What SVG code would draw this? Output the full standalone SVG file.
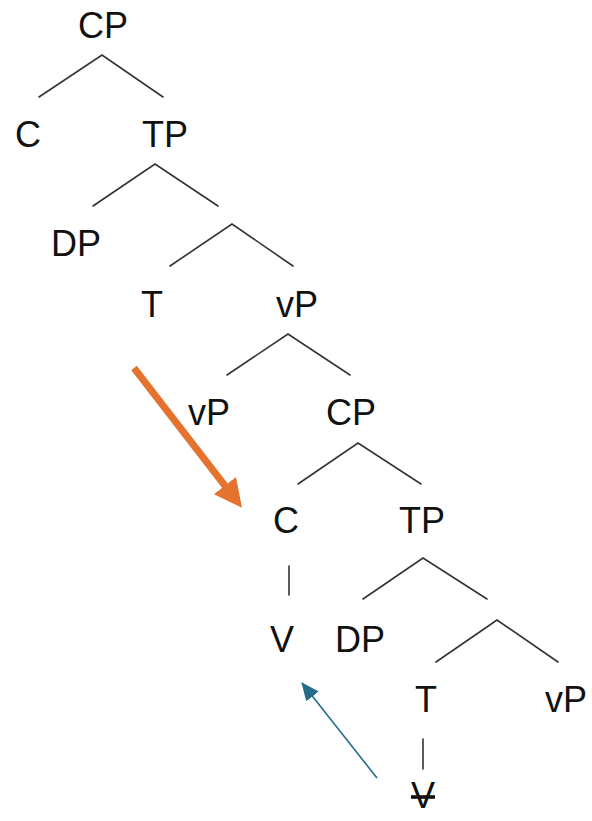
<svg xmlns="http://www.w3.org/2000/svg" width="592" height="821" viewBox="0 0 592 821">
<style>
.lbl{font-family:"Liberation Sans",Arial,sans-serif;font-size:36px;fill:#111;text-anchor:middle}
.br{stroke:#333;stroke-width:1.6;fill:none;stroke-linecap:round;stroke-linejoin:miter}
</style>
<defs>
<marker id="hOrange" markerWidth="4" markerHeight="4" refX="2.6" refY="2" orient="auto" markerUnits="strokeWidth">
<path d="M0,0 L4,2 L0,4 Z" fill="#E5732F"/>
</marker>
<marker id="hBlue" markerWidth="18" markerHeight="16" refX="17" refY="8" orient="auto" markerUnits="userSpaceOnUse">
<path d="M0,0 L18,8 L0,16 Z" fill="#256C8C"/>
</marker>
</defs>
<rect width="592" height="821" fill="#fff"/>
<g id="connectors">
<path class="br" d="M39,97 L102,55 L163,97"/>
<path class="br" d="M93,206 L155,164 L218,206"/>
<path class="br" d="M170,266 L232,224 L293,266"/>
<path class="br" d="M227,375 L288,334 L350,375"/>
<path class="br" d="M298,484 L358,443 L421,484"/>
<path class="br" d="M363,599 L423,558 L487,599"/>
<path class="br" d="M436,662 L497,620 L558,662"/>
<path class="br" d="M289,566 L289,595"/>
<path class="br" d="M423,739 L423,769"/>
<line id="arrow-orange" x1="134" y1="368" x2="236" y2="500" stroke="#E5732F" stroke-width="7" marker-end="url(#hOrange)"/>
<line id="arrow-blue" x1="377" y1="778" x2="302" y2="683" stroke="#256C8C" stroke-width="1.6" marker-end="url(#hBlue)"/>
</g>
<g id="n-CP1"><text class="lbl" x="103" y="38">CP</text></g>
<g id="n-C1"><text class="lbl" x="28" y="147">C</text></g>
<g id="n-TP1"><text class="lbl" x="165" y="147">TP</text></g>
<g id="n-DP1"><text class="lbl" x="76" y="256">DP</text></g>
<g id="n-T1"><text class="lbl" x="152" y="317">T</text></g>
<g id="n-vP1"><text class="lbl" x="297" y="317">vP</text></g>
<g id="n-vP2"><text class="lbl" x="209" y="425">vP</text></g>
<g id="n-CP2"><text class="lbl" x="351" y="425">CP</text></g>
<g id="n-C2"><text class="lbl" x="286" y="533">C</text></g>
<g id="n-TP2"><text class="lbl" x="422" y="533">TP</text></g>
<g id="n-V"><text class="lbl" x="282" y="652">V</text></g>
<g id="n-DP2"><text class="lbl" x="360" y="652">DP</text></g>
<g id="n-T2"><text class="lbl" x="426" y="712">T</text></g>
<g id="n-vP3"><text class="lbl" x="566" y="712">vP</text></g>
<g id="n-Vstruck"><text class="lbl" x="423" y="808" text-decoration="line-through">V</text></g>
</svg>
